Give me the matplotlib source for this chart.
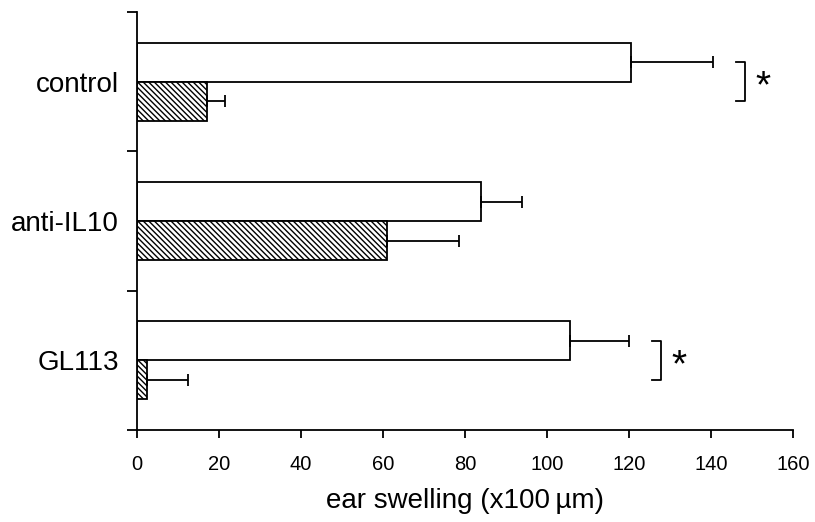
import matplotlib
matplotlib.use("Agg")
import matplotlib.pyplot as plt
import numpy as np

plt.rcParams['font.family'] = ['Liberation Sans', 'DejaVu Sans']
plt.rcParams['hatch.linewidth'] = 1.0

categories = ["control", "anti-IL10", "GL113"]
open_values = [120.5, 84.0, 105.5]
open_errors = [20.0, 10.0, 14.5]
hatched_values = [17.0, 61.0, 2.5]
hatched_errors = [4.5, 17.5, 10.0]
significant = [True, False, True]
x_ticks = [0, 20, 40, 60, 80, 100, 120, 140, 160]

fig = plt.figure(figsize=(8.15, 5.22), dpi=100)
ax = fig.add_axes([0.168, 0.176, 0.805, 0.801])

pos = np.arange(len(categories))
h = 0.28
off = 0.14

ax.barh(pos - off, open_values, height=h, color="white", edgecolor="black", linewidth=1.3, zorder=2)
ax.barh(pos + off, hatched_values, height=h, color="white", edgecolor="black", linewidth=1.3,
        hatch="\\\\\\\\\\\\", zorder=2)
ax.errorbar(open_values, pos - off, xerr=[np.zeros(3), open_errors], fmt="none",
            ecolor="black", elinewidth=1.3, capsize=4, capthick=1.3, zorder=3)
ax.errorbar(hatched_values, pos + off, xerr=[np.zeros(3), hatched_errors], fmt="none",
            ecolor="black", elinewidth=1.3, capsize=4, capthick=1.3, zorder=3)

for i, sig in enumerate(significant):
    if not sig:
        continue
    xr = open_values[i] + open_errors[i] + 7.8
    ax.plot([xr - 2.2, xr, xr, xr - 2.2], [i - off, i - off, i + off, i + off],
            color="black", lw=1.3, clip_on=False)
    ax.text(xr + 2.5, i + 0.04, "*", fontsize=28, ha="left", va="center")

ax.set_xlim(0, 160)
ax.set_ylim(2.5, -0.5)
ax.set_xticks(x_ticks)
ax.set_xticklabels([str(t) for t in x_ticks])
ax.set_yticks([-0.5, 0.5, 1.5, 2.5])
ax.set_yticklabels([])
ax.set_yticks(pos, minor=True)
ax.set_yticklabels(categories, minor=True)
ax.tick_params(axis="y", which="major", direction="out", length=7, width=1.3)
ax.tick_params(axis="y", which="minor", length=0, pad=13, labelsize=20)
ax.tick_params(axis="x", direction="out", length=6, width=1.3, pad=12, labelsize=14.5)
ax.set_xlabel("ear swelling (x100\u2009\u00b5m)", fontsize=20, labelpad=10)

for s in ["top", "right"]:
    ax.spines[s].set_visible(False)
for s in ["left", "bottom"]:
    ax.spines[s].set_linewidth(1.3)

fig.savefig("out.png", dpi=100)
